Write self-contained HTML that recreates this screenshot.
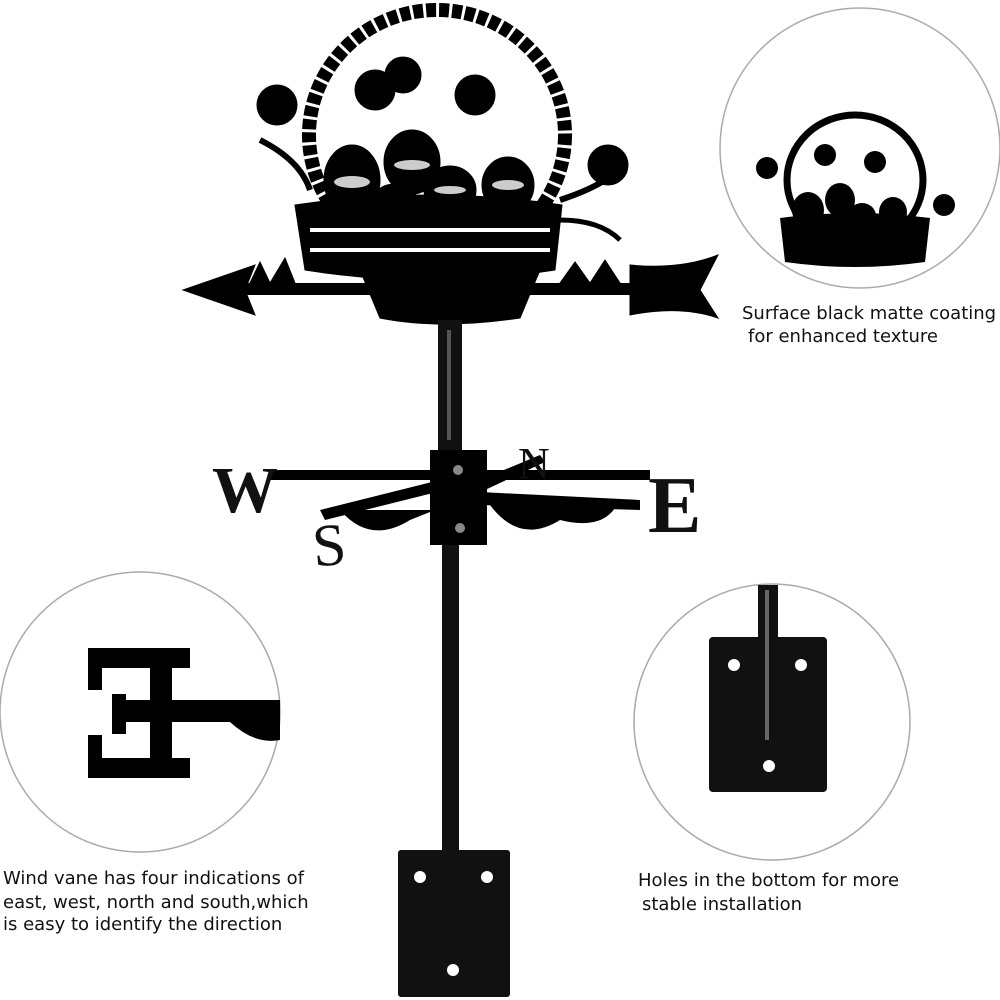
<!DOCTYPE html>
<html><head><meta charset="utf-8"><style>
html,body{margin:0;padding:0;background:#fff;width:1000px;height:1000px;overflow:hidden}
svg{display:block}
text{font-family:"DejaVu Sans","Liberation Sans",sans-serif;fill:#111}
</style></head><body>
<svg width="1000" height="1000" viewBox="0 0 1000 1000" xmlns="http://www.w3.org/2000/svg">
<rect width="1000" height="1000" fill="#fff"/>
<circle cx="860" cy="148" r="140" fill="none" stroke="#aaa" stroke-width="1.5"/>
<circle cx="140" cy="712" r="140" fill="none" stroke="#aaa" stroke-width="1.5"/>
<circle cx="772" cy="722" r="138" fill="none" stroke="#aaa" stroke-width="1.5"/>

<g fill="#000" stroke="#000">
<ellipse cx="437" cy="135" rx="128" ry="125" fill="none" stroke-width="14" stroke-dasharray="10 3"/>
<path d="M295 205 Q430 185 562 205 L555 270 Q430 290 305 270 Z"/>
<ellipse cx="352" cy="180" rx="28" ry="35"/><ellipse cx="412" cy="162" rx="28" ry="32"/>
<ellipse cx="450" cy="190" rx="26" ry="24"/><ellipse cx="508" cy="185" rx="26" ry="28"/>
<ellipse cx="395" cy="200" rx="22" ry="16"/>
<circle cx="277" cy="105" r="20"/><circle cx="375" cy="90" r="20"/><circle cx="403" cy="75" r="18"/>
<circle cx="475" cy="95" r="20"/><circle cx="608" cy="165" r="20"/>
<path d="M260 140 Q300 160 310 190" fill="none" stroke-width="6"/>
<path d="M560 200 Q590 190 605 180" fill="none" stroke-width="6"/>
<path d="M560 220 Q600 220 620 240" fill="none" stroke-width="5"/>
<rect x="220" y="283" width="420" height="12" stroke="none"/>
<path d="M183 290 L255 265 L245 290 L255 315 Z"/>
<path d="M630 265 Q680 270 718 255 L700 290 L718 318 Q680 305 630 315 Z"/>
<path d="M360 270 Q440 260 540 270 L520 318 Q440 330 380 318 Z"/>
<path d="M250 283 L260 262 L270 283 L285 258 L295 283 Z"/>
<path d="M560 283 L575 262 L590 283 L605 260 L620 283 Z"/>
</g>
<g fill="#fff" stroke="none">
<ellipse cx="352" cy="182" rx="18" ry="6" opacity=".8"/><ellipse cx="412" cy="165" rx="18" ry="5" opacity=".8"/>
<ellipse cx="450" cy="190" rx="16" ry="4" opacity=".8"/><ellipse cx="508" cy="185" rx="16" ry="5" opacity=".8"/>
<rect x="310" y="228" width="240" height="4"/><rect x="310" y="248" width="240" height="4"/>
</g>

<rect x="438" y="320" width="24" height="130" fill="#111"/>
<rect x="442" y="540" width="17" height="312" fill="#111"/>
<rect x="447" y="330" width="4" height="110" fill="#555"/>

<g fill="#000">
<rect x="270" y="470" width="380" height="10"/>
<path d="M320 510 L440 480 L445 490 L325 520 Z"/>
<path d="M480 480 L540 455 L545 462 L485 490 Z"/>
<path d="M480 492 L640 500 L640 510 L480 505 Z"/>
<rect x="430" y="450" width="57" height="95"/>
<path d="M490 505 Q520 545 560 520 Q600 530 615 508 L490 505Z"/>
<path d="M340 510 Q370 545 410 520 L435 510Z"/>
</g>
<circle cx="458" cy="470" r="5" fill="#888"/><circle cx="460" cy="528" r="5" fill="#888"/>
<text x="212" y="512" font-weight="bold" font-size="66" style="font-family:'Liberation Serif',serif">W</text>
<text x="648" y="532" font-weight="bold" font-size="80" style="font-family:'Liberation Serif',serif">E</text>
<text x="312" y="565" font-size="60" style="font-family:'Liberation Serif',serif" transform="rotate(-5 330 540)">S</text>
<text x="518" y="478" font-size="44" style="font-family:'Liberation Serif',serif">N</text>

<rect x="398" y="850" width="112" height="147" fill="#111" rx="3"/>
<circle cx="420" cy="877" r="6" fill="#fff"/><circle cx="487" cy="877" r="6" fill="#fff"/><circle cx="453" cy="970" r="6" fill="#fff"/>

<rect x="709" y="637" width="118" height="155" fill="#111" rx="4"/>
<rect x="758" y="585" width="20" height="158" fill="#111"/>
<rect x="765" y="590" width="4" height="150" fill="#666"/>
<circle cx="734" cy="665" r="6" fill="#fff"/><circle cx="801" cy="665" r="6" fill="#fff"/><circle cx="769" cy="766" r="6" fill="#fff"/>

<!-- reversed E -->
<g fill="#000">
<rect x="88" y="648" width="102" height="20"/>
<rect x="88" y="648" width="14" height="42"/>
<rect x="150" y="648" width="22" height="130"/>
<rect x="112" y="700" width="168" height="22"/>
<rect x="112" y="694" width="14" height="40"/>
<rect x="88" y="758" width="102" height="20"/>
<rect x="88" y="735" width="14" height="43"/>
<path d="M230 722 Q255 745 280 740 L280 722Z"/>
</g>

<g fill="#000">
<ellipse cx="855" cy="180" rx="68" ry="65" fill="none" stroke="#000" stroke-width="7"/>
<path d="M780 218 Q855 208 930 218 L925 262 Q855 272 785 262 Z"/>
<ellipse cx="808" cy="210" rx="16" ry="18"/><ellipse cx="840" cy="200" rx="15" ry="17"/>
<ellipse cx="862" cy="216" rx="14" ry="13"/><ellipse cx="893" cy="212" rx="14" ry="15"/>
<circle cx="767" cy="168" r="11"/><circle cx="825" cy="155" r="11"/><circle cx="875" cy="162" r="11"/><circle cx="944" cy="205" r="11"/>
</g>

<text x="742" y="319" font-size="18">Surface black matte coating</text>
<text x="748" y="342" font-size="18">for enhanced texture</text>
<text x="3" y="884" font-size="18">Wind vane has four indications of</text>
<text x="3" y="908" font-size="18">east, west, north and south,which</text>
<text x="3" y="930" font-size="18">is easy to identify the direction</text>
<text x="638" y="886" font-size="18">Holes in the bottom for more</text>
<text x="642" y="910" font-size="18">stable installation</text>
</svg>
</body></html>
